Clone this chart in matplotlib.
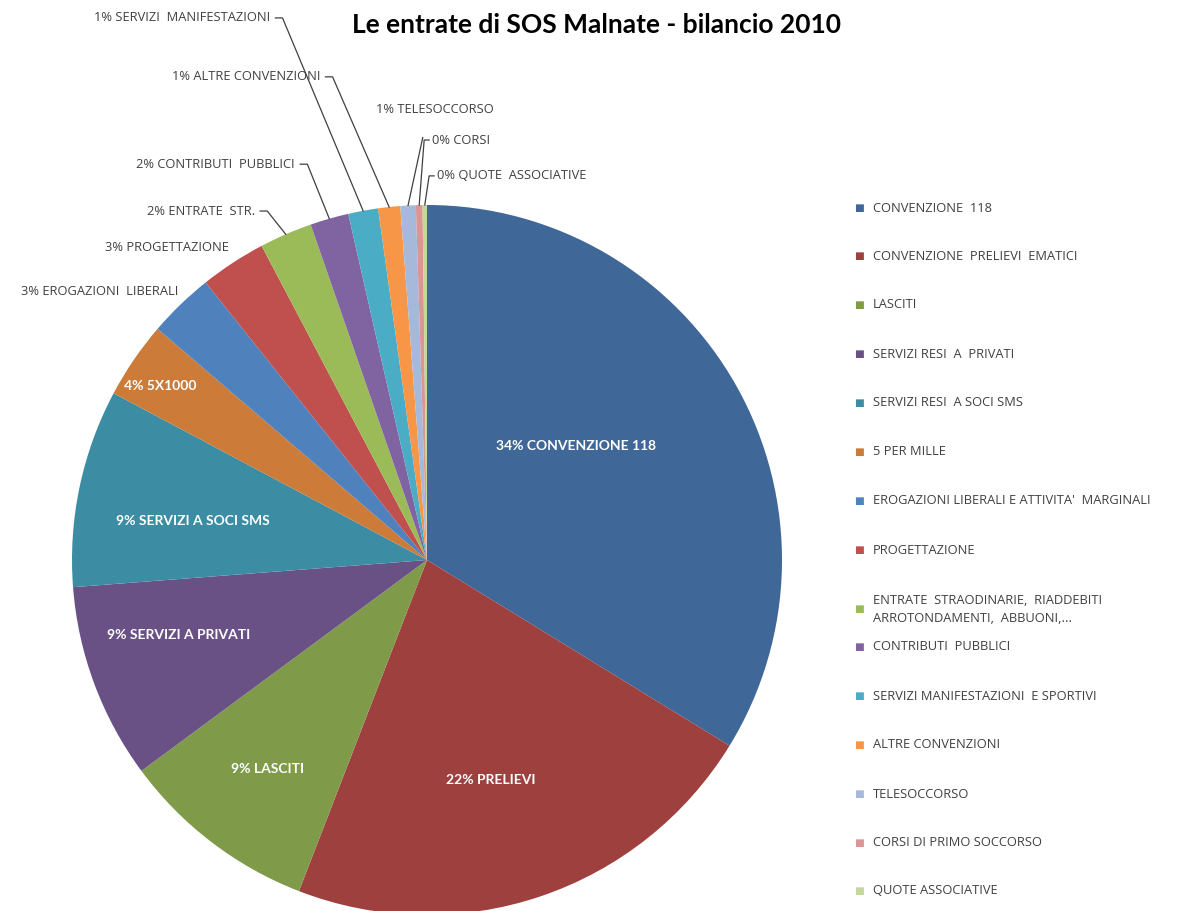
import numpy as np
import matplotlib
matplotlib.use("Agg")
import matplotlib.pyplot as plt

# data (percent of total income)
categories = ["CONVENZIONE  118", "CONVENZIONE  PRELIEVI  EMATICI", "LASCITI",
              "SERVIZI RESI  A  PRIVATI", "SERVIZI RESI  A SOCI SMS", "5 PER MILLE",
              "EROGAZIONI LIBERALI E ATTIVITA'  MARGINALI", "PROGETTAZIONE",
              "ENTRATE  STRAODINARIE,  RIADDEBITI\nARROTONDAMENTI,  ABBUONI,...",
              "CONTRIBUTI  PUBBLICI", "SERVIZI MANIFESTAZIONI  E SPORTIVI",
              "ALTRE CONVENZIONI", "TELESOCCORSO", "CORSI DI PRIMO SOCCORSO",
              "QUOTE ASSOCIATIVE"]
values = [33.75, 22.1, 9.0, 8.9, 9.0, 3.5, 3.0, 3.0, 2.4, 1.75, 1.36, 1.0, 0.7, 0.3, 0.2]
short_labels = ["CONVENZIONE 118", "PRELIEVI", "LASCITI", "SERVIZI A PRIVATI",
                "SERVIZI A SOCI SMS", "5X1000", "EROGAZIONI  LIBERALI", "PROGETTAZIONE",
                "ENTRATE  STR.", "CONTRIBUTI  PUBBLICI", "SERVIZI  MANIFESTAZIONI",
                "ALTRE CONVENZIONI", "TELESOCCORSO", "CORSI", "QUOTE  ASSOCIATIVE"]

colors = ["#3F6797", "#9E413E", "#7F9A48", "#695185", "#3C8DA3", "#CC7B38",
          "#4F81BD", "#C0504D", "#9BBB59", "#8064A2", "#4BACC6", "#F79646",
          "#A7B9DA", "#D99694", "#C3D69B"]

plt.rcParams["font.family"] = ["Lato", "DejaVu Sans"]
small_font = ["Open Sans", "DejaVu Sans"]

W, H = 1179, 911
fig = plt.figure(figsize=(W / 100, H / 100), dpi=100)

# pie axes: centre (427, 560) px, radius 355 px
cx, cy, r = 427, 560, 355
ax = fig.add_axes([(cx - r) / W, (H - cy - r) / H, 2 * r / W, 2 * r / H])
wedges, _ = ax.pie(values, colors=colors, startangle=90, counterclock=False,
                   wedgeprops=dict(linewidth=0))
ax.set_xlim(-1, 1)
ax.set_ylim(-1, 1)
ax.set_aspect("equal")
ax.axis("off")

total = sum(values)
pct = [f"{v / total * 100:.0f}%" for v in values]

# labels inside the big slices (data coords)
inside_pos = [(0.42, 0.32), (0.18, -0.62), (-0.45, -0.59), (-0.70, -0.21),
              (-0.66, 0.11), (-0.75, 0.49)]
for i, (x, y) in enumerate(inside_pos):
    ax.text(x, y, f"{pct[i]} {short_labels[i]}", color="white", fontsize=10,
            fontweight="bold", ha="center", va="center")

# labels outside with leader lines: (text x, text y, ha)
outside_pos = {6: (-0.70, 0.755, "right"), 7: (-0.558, 0.879, "right"),
               8: (-0.485, 0.983, "right"), 9: (-0.372, 1.115, "right"),
               10: (-0.442, 1.527, "right"), 11: (-0.301, 1.361, "right"),
               12: (-0.144, 1.268, "left"), 13: (0.014, 1.183, "left"),
               14: (0.028, 1.082, "left")}
for i, (tx, ty, ha) in outside_pos.items():
    ax.text(tx, ty, f"{pct[i]} {short_labels[i]}", color="#404040", fontsize=9.3,
            ha=ha, va="center", clip_on=False, family=small_font)
    w = wedges[i]
    mid = np.deg2rad((w.theta1 + w.theta2) / 2)
    ex, ey = np.cos(mid), np.sin(mid)
    if i in (6, 7):
        continue
    if i == 12:
        # telesoccorso line runs up towards the CORSI label
        xs = [ex, -0.012]
        ys = [ey, 1.19]
    elif ha == "right":
        xs = [tx + 0.015, tx + 0.035, ex]
        ys = [ty, ty, ey]
    else:
        xs = [tx - 0.008, tx - 0.022, ex]
        ys = [ty, ty, ey]
    ax.plot(xs, ys, color="#404040", lw=0.9, clip_on=False)

# title
fig.text(596 / W, 1 - 25 / H, "Le entrate di SOS Malnate - bilancio 2010",
         fontsize=19, fontweight="bold", ha="center", va="center", color="black")

# legend drawn as coloured squares plus text
leg_y = [208, 256, 305, 354, 403, 452, 501, 550, 609, 647, 696, 745, 794, 843, 891]
for i, lab in enumerate(categories):
    y = 1 - leg_y[i] / H
    fig.text(859 / W, y, "■", color=colors[i], fontsize=7.5, ha="center", va="center",
             family="DejaVu Sans")
    fig.text(873 / W, y, lab, color="#404040", fontsize=9.3, ha="left", va="center",
             linespacing=1.5, family=small_font)

fig.savefig("out.png", dpi=100, facecolor="white")
